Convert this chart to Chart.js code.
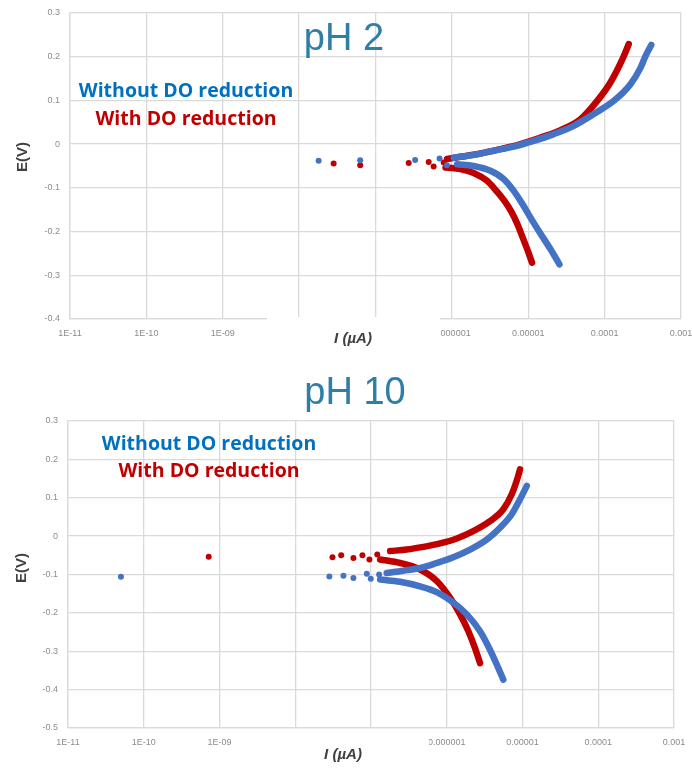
<!DOCTYPE html>
<html>
<head>
<meta charset="utf-8">
<script src="https://cdn.jsdelivr.net/npm/chart.js@4"></script>
<style>
  body { margin: 0; background: #fff; }
  canvas { position: absolute; left: 0; }
  #ph2 { top: 0; }
  #ph10 { top: 370px; }
</style>
</head>
<body>
<canvas id="ph2" width="692" height="355"></canvas>
<canvas id="ph10" width="692" height="398"></canvas>
<script>
// axis ticks (current in A shown as I (µA) in the original)
const tickValues = [1e-11, 1e-10, 1e-9, 1e-8, 1e-7, 1e-6, 1e-5, 1e-4, 1e-3];
const tickLabels = ['1E-11', '1E-10', '1E-09', '1E-08', '1E-07', '0.000001', '0.00001', '0.0001', '0.001'];

// pH 2 -- [current, potential]
const ph2BlueSparse = [[1.8e-8, -0.038], [6.3e-8, -0.037], [3.3e-7, -0.036], [6.9e-7, -0.033], [8.6e-7, -0.048]];
const ph2BlueAnodic = [[1.06e-6, -0.031], [1.93e-6, -0.0245], [3.53e-6, -0.015], [6.46e-6, -0.0055], [1.18e-5, 0.0076],
  [2.16e-5, 0.023], [3.94e-5, 0.042], [7.21e-5, 0.069], [1.32e-4, 0.099], [2.18e-4, 0.137], [2.96e-4, 0.175],
  [3.44e-4, 0.202], [4.08e-4, 0.227]];
const ph2BlueCathodic = [[1.17e-6, -0.046], [1.93e-6, -0.050], [3.2e-6, -0.061], [4.78e-6, -0.080], [6.46e-6, -0.107],
  [8.39e-6, -0.137], [1.07e-5, -0.168], [1.45e-5, -0.205], [1.95e-5, -0.240], [2.56e-5, -0.275]];
const ph2RedSparse = [[2.83e-8, -0.044], [6.3e-8, -0.048], [2.72e-7, -0.043], [4.97e-7, -0.041], [5.77e-7, -0.051],
  [7.82e-7, -0.042], [8.2e-7, -0.054]];
const ph2RedAnodic = [[8.65e-7, -0.034], [1.29e-6, -0.029], [2.37e-6, -0.0215], [4.33e-6, -0.0114], [7.91e-6, 0.0],
  [1.45e-5, 0.015], [2.64e-5, 0.032], [4.83e-5, 0.057], [8.0e-5, 0.099], [1.19e-4, 0.141], [1.79e-4, 0.202],
  [2.07e-4, 0.229]];
const ph2RedCathodic = [[8.65e-7, -0.0535], [1.29e-6, -0.057], [1.93e-6, -0.066], [2.89e-6, -0.084], [3.83e-6, -0.107],
  [4.88e-6, -0.130], [6.03e-6, -0.155], [7.21e-6, -0.183], [8.39e-6, -0.212], [9.77e-6, -0.242], [1.12e-5, -0.271]];

// pH 10 -- [current, potential]
const ph10BlueSparse = [[5.0e-11, -0.106], [2.82e-8, -0.105], [4.33e-8, -0.103], [5.86e-8, -0.109], [8.81e-8, -0.098],
  [9.93e-8, -0.111], [1.28e-7, -0.100]];
const ph10BlueAnodic = [[1.61e-7, -0.096], [2.67e-7, -0.090], [4.45e-7, -0.083], [7.38e-7, -0.070], [1.22e-6, -0.055],
  [2.03e-6, -0.035], [3.37e-6, -0.009], [5.05e-6, 0.022], [7.21e-6, 0.057], [9.27e-6, 0.096], [1.14e-5, 0.131]];
const ph10BlueCathodic = [[1.32e-7, -0.113], [2.42e-7, -0.119], [4.45e-7, -0.131], [7.38e-7, -0.146], [1.22e-6, -0.173],
  [1.84e-6, -0.204], [2.75e-6, -0.248], [3.72e-6, -0.296], [4.8e-6, -0.344], [5.58e-6, -0.374]];
const ph10RedSparse = [[7.2e-10, -0.054], [3.1e-8, -0.055], [4.04e-8, -0.050], [5.86e-8, -0.057], [7.71e-8, -0.050],
  [9.53e-8, -0.061], [1.21e-7, -0.048]];
const ph10RedAnodic = [[1.79e-7, -0.039], [2.96e-7, -0.035], [4.91e-7, -0.028], [8.17e-7, -0.019], [1.36e-6, -0.006],
  [2.24e-6, 0.013], [3.72e-6, 0.039], [5.58e-6, 0.070], [7.21e-6, 0.109], [8.38e-6, 0.144], [9.27e-6, 0.174]];
const ph10RedCathodic = [[1.32e-7, -0.061], [2.42e-7, -0.070], [4.45e-7, -0.087], [7.38e-7, -0.117], [1.11e-6, -0.161],
  [1.5e-6, -0.204], [1.93e-6, -0.248], [2.36e-6, -0.292], [2.75e-6, -0.331]];

const BLUE = '#4472C4';
const RED = '#C00000';
const GRID = '#dadada';

function pts(arr) {
    return arr.map(p => ({ x: p[0], y: p[1] }));
}

function dots(arr, color) {
    return { data: pts(arr), showLine: false, pointRadius: 3, pointBackgroundColor: color, pointBorderWidth: 0 };
}

function branch(arr, color) {
    return {
        data: pts(arr), showLine: true, borderColor: color, borderWidth: 6.5, pointRadius: 0,
        cubicInterpolationMode: 'monotone', borderCapStyle: 'round', borderJoinStyle: 'round'
    };
}

function overlay(o) {
    return {
        id: 'overlay',
        afterDraw(chart) {
            const c = chart.ctx;
            c.save();
            c.fillStyle = '#fff';
            c.fillRect(o.box[0], o.box[1], o.box[2], o.box[3]);
            c.textAlign = 'center';
            c.textBaseline = 'middle';
            c.font = '38px "Liberation Sans", Arial, sans-serif';
            c.fillStyle = '#2F7EA6';
            c.fillText(o.title, o.titleX, o.titleY);
            c.font = 'bold 19.5px "Open Sans", sans-serif';
            c.fillStyle = '#0070C0';
            c.fillText('Without DO reduction', o.legX, o.legY1);
            c.fillStyle = '#C00000';
            c.fillText('With DO reduction', o.legX, o.legY2);
            c.fillStyle = '#404040';
            c.font = 'bold italic 15px "Liberation Sans", Arial, sans-serif';
            c.fillText('I (µA)', o.iX, o.iY);
            c.translate(o.eX, o.eY);
            c.rotate(-Math.PI / 2);
            c.font = 'bold 15px "Liberation Sans", Arial, sans-serif';
            c.fillText('E(V)', 0, 0);
            c.restore();
        }
    };
}

function makeChart(id, sets, yMin, area, o) {
    const cv = document.getElementById(id);
    return new Chart(cv, {
        type: 'scatter',
        data: { datasets: sets },
        options: {
            responsive: false,
            animation: false,
            layout: { padding: { top: area.top, right: cv.width - area.right, left: 0, bottom: 0 } },
            plugins: { legend: { display: false }, tooltip: { enabled: false } },
            scales: {
                x: {
                    type: 'logarithmic',
                    min: 1e-11,
                    max: 1e-3,
                    afterBuildTicks: s => { s.ticks = tickValues.map(v => ({ value: v, major: true })); },
                    afterFit: s => {
                        s.height = cv.height - area.bottom;
                        s.paddingLeft = 0;
                        s.paddingRight = 0;
                    },
                    grid: { color: GRID, lineWidth: 1.3, drawTicks: false },
                    border: { color: GRID, width: 1.3 },
                    ticks: {
                        autoSkip: false, maxRotation: 0, padding: 9, color: '#8c8c8c',
                        font: { size: 9, family: 'Liberation Sans' },
                        callback: (v, i) => tickLabels[i]
                    }
                },
                y: {
                    min: yMin,
                    max: 0.3,
                    afterFit: s => {
                        s.width = area.left;
                        s.paddingTop = 0;
                        s.paddingBottom = 0;
                    },
                    grid: { color: GRID, lineWidth: 1.3, drawTicks: false },
                    border: { color: GRID, width: 1.3 },
                    ticks: {
                        stepSize: 0.1, padding: 10, color: '#8c8c8c',
                        font: { size: 9, family: 'Liberation Sans' },
                        callback: v => String(Math.round(v * 10) / 10)
                    }
                }
            }
        },
        plugins: [overlay(o)]
    });
}

makeChart('ph2', [
    dots(ph2BlueSparse, BLUE), branch(ph2BlueAnodic, BLUE), branch(ph2BlueCathodic, BLUE),
    dots(ph2RedSparse, RED), branch(ph2RedAnodic, RED), branch(ph2RedCathodic, RED)
], -0.4, { left: 70, right: 681, top: 13, bottom: 319 }, {
    box: [267, 317, 173, 40], title: 'pH 2', titleX: 344, titleY: 40,
    legX: 186, legY1: 91, legY2: 119, iX: 353, iY: 339, eX: 23, eY: 157
});

makeChart('ph10', [
    dots(ph10BlueSparse, BLUE), branch(ph10BlueAnodic, BLUE), branch(ph10BlueCathodic, BLUE),
    dots(ph10RedSparse, RED), branch(ph10RedAnodic, RED), branch(ph10RedCathodic, RED)
], -0.5, { left: 68, right: 674, top: 51, bottom: 358 }, {
    box: [250, 361, 179, 37], title: 'pH 10', titleX: 355, titleY: 24,
    legX: 209, legY1: 74, legY2: 101, iX: 343, iY: 385, eX: 22, eY: 198
});
</script>
</body>
</html>
